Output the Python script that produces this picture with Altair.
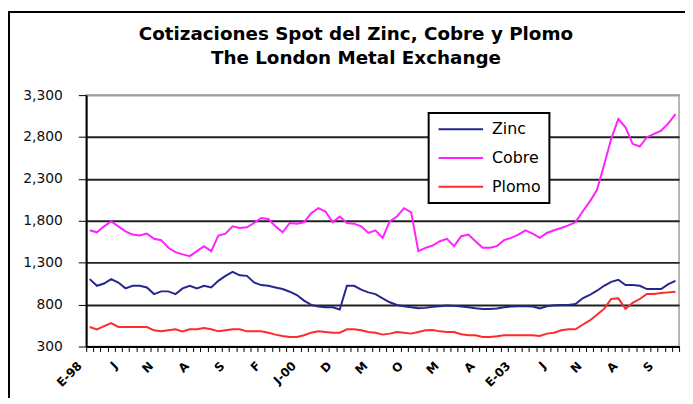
import json
import altair as alt
import pandas as pd

# Monthly LME spot prices, Jan 1998 .. Nov 2004 (83 months)
zinc = [1104, 1025, 1052, 1104, 1064, 994, 1025, 1025, 1005, 926,
        958, 958, 926, 994, 1025, 994, 1025, 1005, 1084, 1143,
        1190, 1150, 1143, 1064, 1033, 1025, 1005, 986, 954, 915,
        848, 797, 777, 769, 769, 741, 1025, 1025, 978, 946,
        926, 875, 828, 796, 781, 769, 757, 761, 773, 781,
        789, 785, 777, 769, 757, 749, 749, 753, 769, 777,
        781, 781, 777, 753, 781, 793, 796, 796, 808, 875,
        915, 966, 1025, 1072, 1096, 1033, 1033, 1025, 986, 986,
        986, 1045, 1084]
cobre = [1687, 1663, 1734, 1793, 1734, 1675, 1636, 1624, 1647, 1585,
         1569, 1478, 1427, 1400, 1379, 1438, 1498, 1438, 1624, 1647,
         1734, 1714, 1722, 1774, 1833, 1821, 1734, 1663, 1774, 1766,
         1782, 1892, 1951, 1911, 1782, 1852, 1774, 1766, 1734, 1655,
         1687, 1596, 1793, 1852, 1951, 1900, 1438, 1478, 1505, 1556,
         1584, 1498, 1616, 1636, 1556, 1478, 1478, 1498, 1569, 1596,
         1636, 1687, 1647, 1596, 1655, 1687, 1714, 1746, 1782, 1911,
         2029, 2167, 2463, 2778, 3015, 2916, 2719, 2687, 2798, 2837,
         2877, 2963, 3074]
plomo = [533, 505, 544, 580, 533, 533, 533, 533, 533, 493,
         481, 493, 505, 481, 505, 505, 521, 505, 481, 493,
         505, 505, 481, 481, 481, 465, 442, 426, 414, 414,
         434, 465, 481, 474, 465, 465, 505, 505, 493, 474,
         465, 442, 454, 474, 465, 454, 474, 493, 497, 481,
         474, 474, 446, 434, 434, 414, 414, 422, 434, 434,
         434, 434, 434, 426, 454, 465, 493, 505, 505, 560,
         611, 678, 749, 867, 875, 749, 820, 867, 926, 926,
         938, 946, 954]

series = ["Zinc", "Cobre", "Plomo"]
colors = ["#26268f", "#ff22ff", "#ff2a2a"]

# category-axis labels, one every 5 months
tick_labels = ["E-98", "J", "N", "A", "S", "F", "J-00", "D", "M", "O",
               "M", "A", "E-03", "J", "N", "A", "S"]
label_step = 5
y_ticks = [300, 800, 1300, 1800, 2300, 2800, 3300]

n = len(zinc)
rows = []
for name, vals in zip(series, [zinc, cobre, plomo]):
    for i, v in enumerate(vals):
        rows.append({"mes": i, "metal": name, "valor": v})
df = pd.DataFrame(rows)

label_arr = []
for i in range(n + 1):
    if i % label_step == 0 and i // label_step < len(tick_labels):
        label_arr.append(tick_labels[i // label_step])
    else:
        label_arr.append("")
label_expr = json.dumps(label_arr) + "[datum.value]"

lines = alt.Chart(df).transform_calculate(
    xpos="datum.mes + 0.5"
).mark_line(strokeWidth=2).encode(
    x=alt.X("xpos:Q",
            scale=alt.Scale(domain=[0, n], nice=False, zero=False),
            axis=alt.Axis(values=list(range(n + 1)), labelExpr=label_expr,
                          labelAngle=-45, labelAlign="right", labelBaseline="middle",
                          labelOverlap=False, labelFlush=False, labelBound=False,
                          labelOffset=-7, labelPadding=12,
                          labelFont="DejaVu Sans", labelFontSize=12,
                          labelFontWeight="bold", labelColor="#000",
                          grid=False, title=None, tickSize=5, tickColor="#000",
                          tickWidth=1, domainColor="#000", domainWidth=2)),
    y=alt.Y("valor:Q",
            scale=alt.Scale(domain=[300, 3300], nice=False, zero=False),
            axis=alt.Axis(values=y_ticks, format=",.0f", title=None,
                          grid=True, gridWidth=2,
                          gridColor=alt.condition("datum.value === 3300",
                                                  alt.value("#a0a0a0"),
                                                  alt.value("#222222")),
                          tickSize=8, tickColor="#000", tickWidth=1,
                          domainColor="#000", domainWidth=2,
                          labelFont="DejaVu Sans", labelFontSize=14,
                          labelColor="#111", labelPadding=16)),
    color=alt.Color("metal:N",
                    scale=alt.Scale(domain=series, range=colors),
                    legend=alt.Legend(orient="none", legendX=346, legendY=18,
                                      title=None, symbolType="M-3,0L3,0",
                                      symbolSize=225, symbolStrokeWidth=2,
                                      symbolOffset=16, labelOffset=23,
                                      labelFont="DejaVu Sans", labelFontSize=16,
                                      labelColor="#000", padding=8, rowPadding=12,
                                      strokeColor="#000", fillColor="#fff")),
)

frame = alt.Chart(pd.DataFrame({"d": [0]})).mark_rect(
    filled=False, stroke="#000", strokeWidth=2
).encode(x=alt.value(-78), x2=alt.value(700), y=alt.value(-84), y2=alt.value(420))

chart = alt.layer(frame, lines).properties(
    width=599, height=254,
    title=alt.TitleParams(text=["Cotizaciones Spot del Zinc, Cobre y Plomo",
                                "The London Metal Exchange"],
                          font="DejaVu Sans", fontSize=18.5, fontWeight="bold",
                          color="#000", anchor="middle", lineHeight=24,
                          dx=-27, dy=81, offset=24),
    autosize=alt.AutoSizeParams(type="none"),
    padding={"left": 79, "top": 86, "right": 6, "bottom": 50},
).configure_view(stroke="#a0a0a0", strokeWidth=1.5).configure_legend(strokeWidth=2)

chart.save("out.html", embed_options={"renderer": "svg", "actions": False})
